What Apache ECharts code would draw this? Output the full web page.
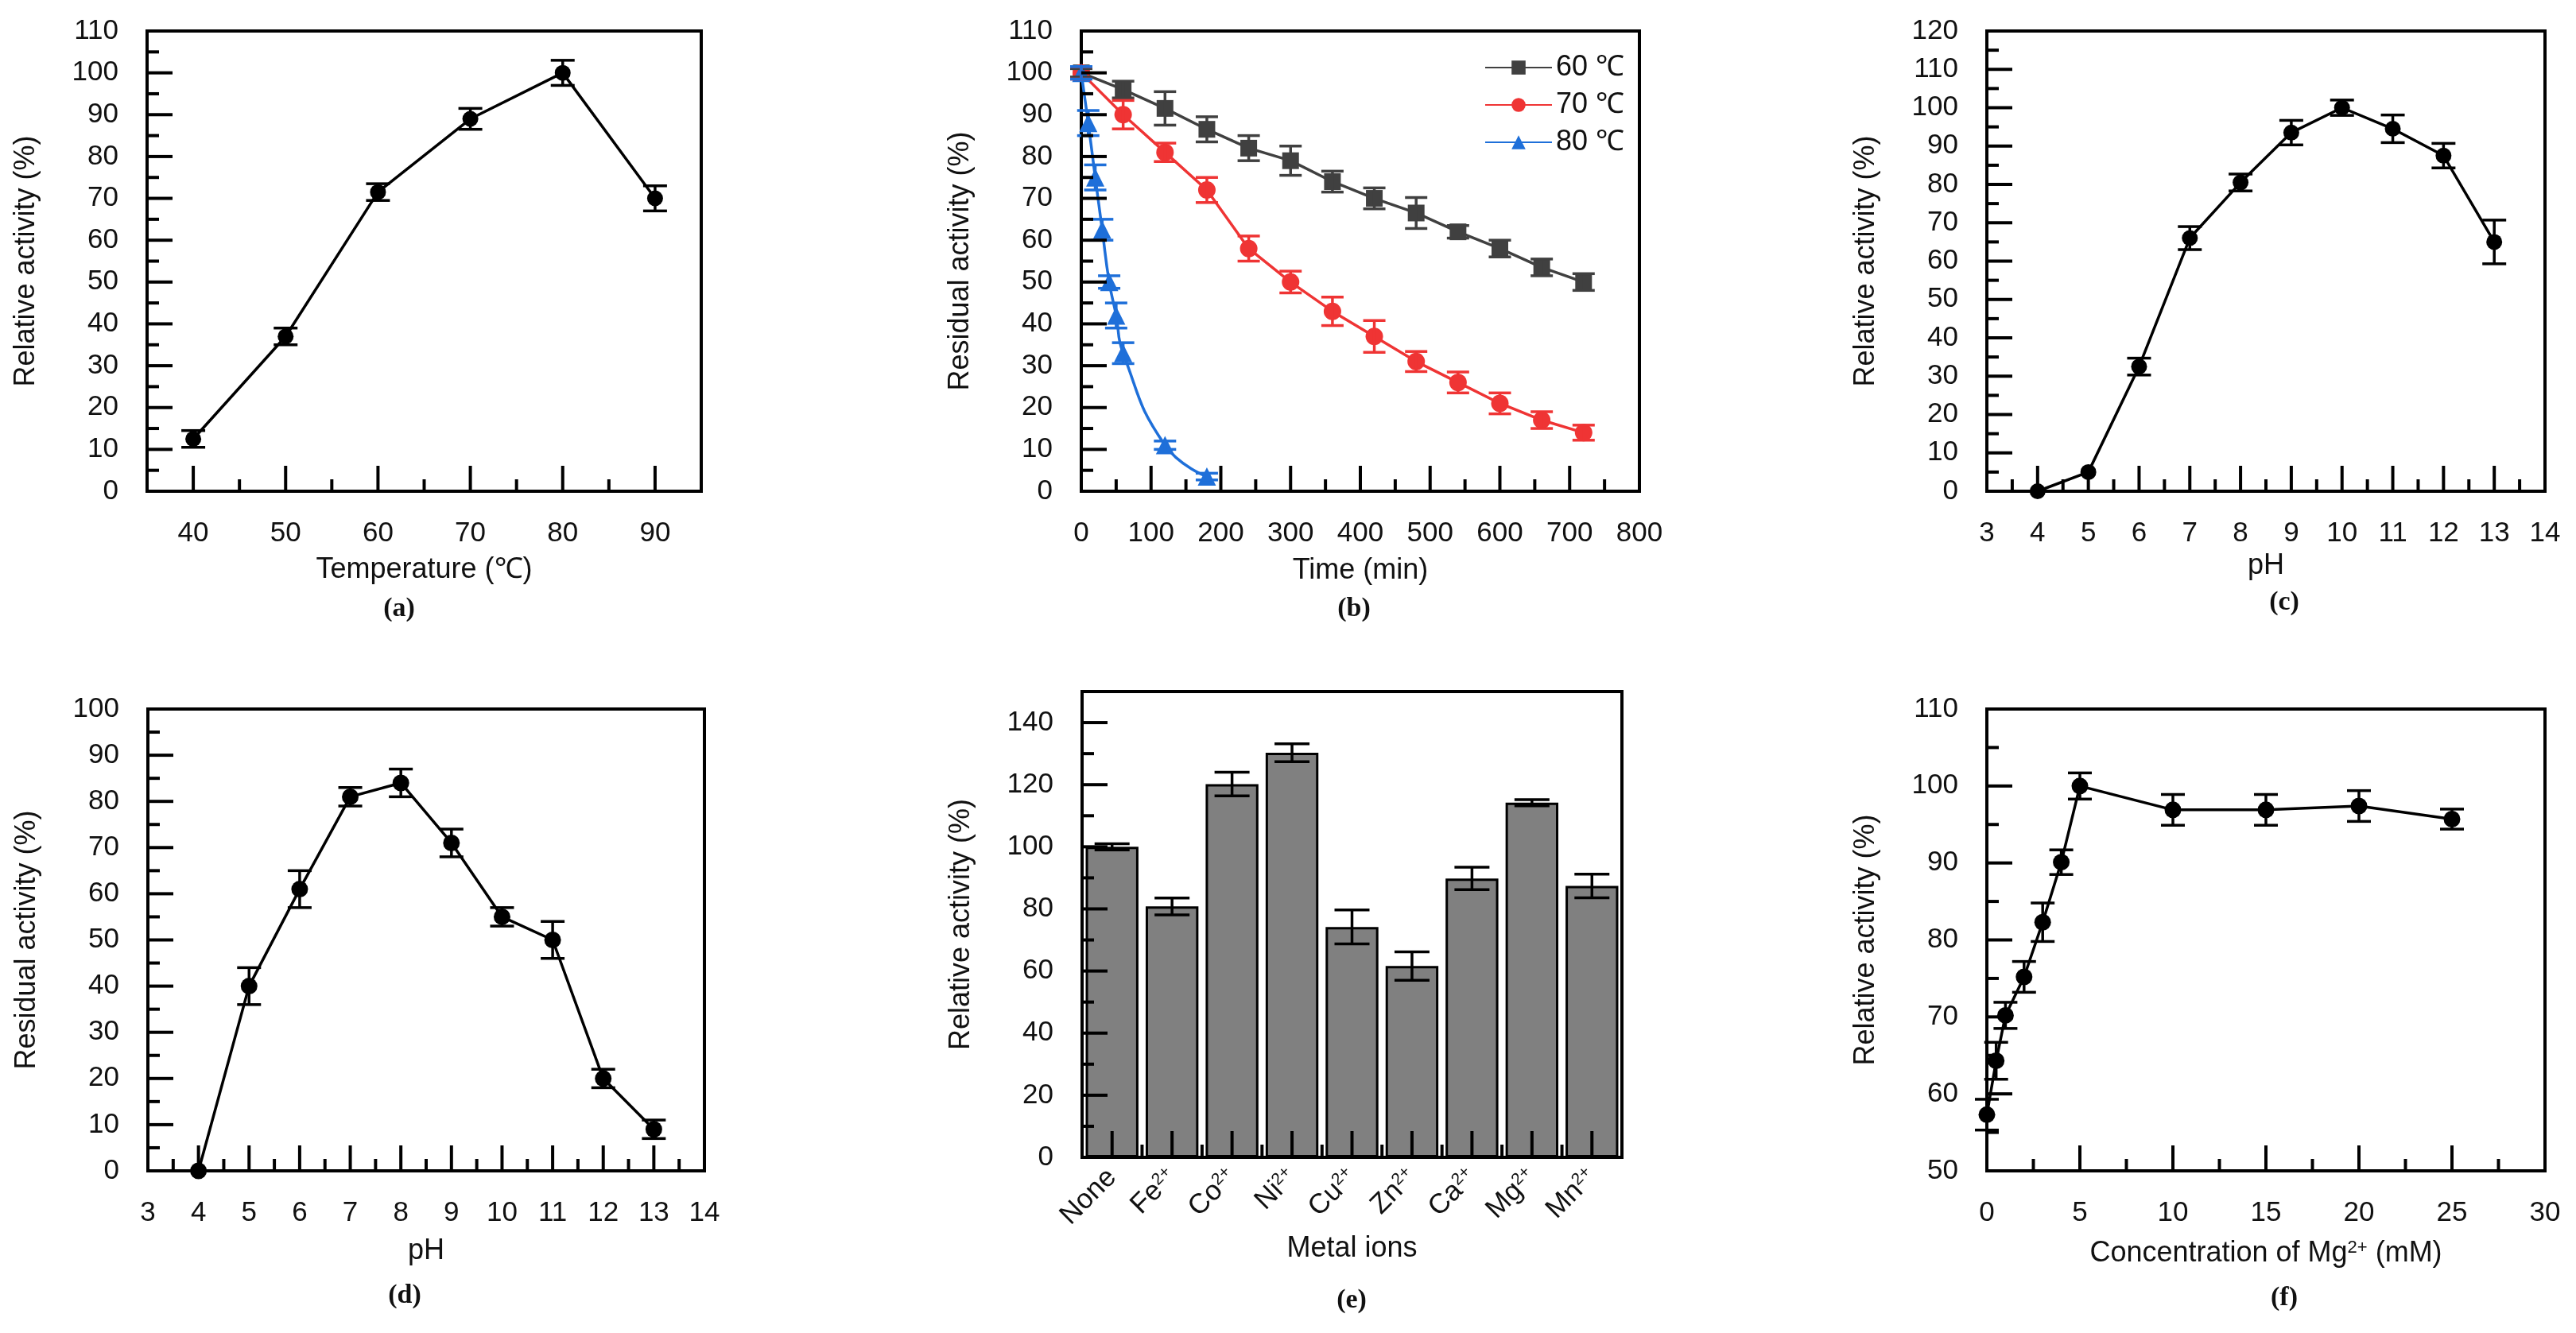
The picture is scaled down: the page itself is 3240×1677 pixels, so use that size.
<!DOCTYPE html>
<html>
<head>
<meta charset="utf-8">
<script src="https://cdn.jsdelivr.net/npm/echarts@6/dist/echarts.min.js"></script>
<style>
  html, body { margin: 0; padding: 0; background: #fff; }
  #chart { width: 3240px; height: 1677px; }
</style>
</head>
<body>
<div id="chart"></div>
<script>
// (a) optimum temperature
const tempValues = [40, 50, 60, 70, 80, 90];
const tempActivity = [12.5, 37, 71.5, 89, 100, 70];
const tempError = [2, 2, 2, 2.5, 3, 3];

// (b) thermostability
const time6070 = [0, 60, 120, 180, 240, 300, 360, 420, 480, 540, 600, 660, 720];
const residual60 = [100, 96, 91.5, 86.5, 82, 79, 74, 70, 66.5, 62, 58, 53.5, 50];
const error60 = [1, 2, 4, 3, 3, 3.5, 2.5, 2.5, 3.7, 1.5, 2, 2, 2];
const residual70 = [100, 90, 81, 72, 58, 50, 43, 37, 31, 26, 21, 17, 14];
const error70 = [1.5, 3.4, 2.2, 3, 3, 2.6, 3.4, 3.8, 2.4, 2.5, 2.5, 2, 1.8];
const time80 = [0, 10, 20, 30, 40, 50, 60, 120, 180];
const residual80 = [100, 88, 75, 62.5, 50, 42, 33, 11, 3.5];
const error80 = [1.5, 3, 3, 2.5, 1.5, 3, 2.5, 1, 0.8];

// (c) optimum pH
const phActivityX = [4, 5, 6, 7, 8, 9, 10, 11, 12, 13];
const phActivity = [0, 5, 32.5, 66, 80.5, 93.5, 100, 94.5, 87.5, 65];
const phActivityErr = [0, 0, 2.2, 3, 2.2, 3.2, 2, 3.6, 3.2, 5.7];

// (d) pH stability
const phStabilityX = [4, 5, 6, 7, 8, 9, 10, 11, 12, 13];
const phStability = [0, 40, 61, 81, 84, 71, 55, 50, 20, 9];
const phStabilityErr = [0, 4, 4, 2, 3, 3, 2, 4, 2, 2];

// (e) metal ions
const metalIons = ['None', 'Fe{sup|2+}', 'Co{sup|2+}', 'Ni{sup|2+}', 'Cu{sup|2+}',
                   'Zn{sup|2+}', 'Ca{sup|2+}', 'Mg{sup|2+}', 'Mn{sup|2+}'];
const metalActivity = [100, 80.8, 120.2, 130.3, 74.2, 61.6, 89.8, 114.2, 87.4];
const metalError = [1, 2.7, 3.8, 2.9, 5.5, 4.6, 3.6, 1, 3.8];

// (f) Mg2+ concentration
const mgConc = [0, 0.5, 1, 2, 3, 4, 5, 10, 15, 20, 25];
const mgActivity = [57.3, 64.3, 70.2, 75.2, 82.3, 90.1, 100, 96.9, 96.9, 97.4, 95.7];
const mgError = [2, 2.4, 1.7, 2, 2.5, 1.6, 1.7, 2, 2, 2, 1.3];

// tick positions
function range(a, b, step) {
  const out = [];
  for (let v = a; v <= b + 1e-9; v += step) out.push(Math.round(v * 100) / 100);
  return out;
}
const tempMajor = range(40, 90, 10), tempMinor = range(45, 85, 10);
const timeMajor = range(0, 800, 100), timeMinor = range(50, 750, 100);
const phMajor = range(3, 14, 1), phMinor = range(3.5, 13.5, 1);
const mgMajor = range(0, 30, 5), mgMinor = range(2.5, 27.5, 5);
const pct110Major = range(0, 110, 10), pct110Minor = range(5, 105, 10);
const pct120Major = range(0, 120, 10), pct120Minor = range(5, 115, 10);
const pct100Major = range(0, 100, 10), pct100Minor = range(5, 95, 10);
const metalMajor = range(0, 140, 20), metalMinor = range(10, 130, 20);
const pctMgMajor = range(50, 110, 10), pctMgMinor = range(55, 105, 10);

const FONT = 'Liberation Sans';
const GRAY = '#404040';
const RED = '#ef3434';
const BLUE = '#1e6fd9';
const MAJOR = 32, MINOR = 15;

const chart = echarts.init(document.getElementById('chart'));

function mainAxis(gridIndex, min, max, labelValues, name, nameGap) {
  return {
    type: 'value', gridIndex, min, max,
    axisLine: { show: true, onZero: false, lineStyle: { color: '#000', width: 4 } },
    axisTick: { show: false },
    minorTick: { show: false },
    axisLabel: { color: '#111', fontSize: 35, fontFamily: FONT, margin: 36, customValues: labelValues },
    splitLine: { show: false },
    name, nameLocation: 'middle', nameGap,
    nameTextStyle: { color: '#111', fontSize: 36, fontFamily: FONT }
  };
}

const grids = [
  { left: 185, top: 39, width: 697, height: 579 },
  { left: 1360, top: 39, width: 702, height: 579 },
  { left: 2499, top: 39, width: 702, height: 579 },
  { left: 186, top: 892, width: 700, height: 581 },
  { left: 1361, top: 870, width: 679, height: 586 },
  { left: 2499, top: 892, width: 702, height: 581 }
].map(g => Object.assign(g, { show: true, borderColor: '#000', borderWidth: 4 }));

const xE = {
  type: 'category', gridIndex: 4, data: metalIons,
  axisLine: { show: true, onZero: false, lineStyle: { color: '#000', width: 4 } },
  axisTick: { show: false },
  axisLabel: {
    color: '#111', fontSize: 35, fontFamily: FONT, rotate: 45, margin: 20, interval: 0,
    rich: { sup: { fontSize: 21, fontFamily: FONT, color: '#111', verticalAlign: 'top', lineHeight: 22 } }
  },
  splitLine: { show: false },
  name: 'Metal ions', nameLocation: 'middle', nameGap: 97,
  nameTextStyle: { color: '#111', fontSize: 36, fontFamily: FONT }
};
const xF = mainAxis(5, 0, 30, mgMajor, 'Concentration of Mg{sup|2+} (mM)', 86);
xF.nameTextStyle.rich = { sup: { fontSize: 22, fontFamily: FONT, color: '#111', verticalAlign: 'top', lineHeight: 20 } };

const xAxes = [
  mainAxis(0, 35, 95, tempMajor, 'Temperature (\u2103)', 81),
  mainAxis(1, 0, 800, timeMajor, 'Time (min)', 82),
  mainAxis(2, 3, 14, phMajor, 'pH', 76),
  mainAxis(3, 3, 14, phMajor, 'pH', 83),
  xE,
  xF
];
const yAxes = [
  mainAxis(0, 0, 110, pct110Major, 'Relative activity (%)', 134),
  mainAxis(1, 0, 110, pct110Major, 'Residual activity (%)', 134),
  mainAxis(2, 0, 120, pct120Major, 'Relative activity (%)', 134),
  mainAxis(3, 0, 100, pct100Major, 'Residual activity (%)', 134),
  mainAxis(4, 0, 150, metalMajor, 'Relative activity (%)', 134),
  mainAxis(5, 50, 110, pctMgMajor, 'Relative activity (%)', 134)
];

function pairs(xs, ys) {
  return xs.map((x, i) => [x, ys[i]]);
}

function lineSeries(name, idx, xs, ys, color, symbol, size, smooth) {
  return {
    name, type: 'line', xAxisIndex: idx, yAxisIndex: idx,
    data: pairs(xs, ys), smooth: !!smooth,
    symbol, symbolSize: size, showAllSymbol: true,
    itemStyle: { color },
    lineStyle: { color, width: 3.5 },
    z: 3
  };
}

function errorBars(idx, xs, ys, errs, color, capHalf) {
  return {
    type: 'custom', xAxisIndex: idx, yAxisIndex: idx, silent: true, z: 4,
    data: xs.map((x, i) => [x, ys[i] - errs[i], ys[i] + errs[i]]),
    renderItem: function (params, api) {
      if (api.value(1) === api.value(2)) return null;
      const lo = api.coord([api.value(0), api.value(1)]);
      const hi = api.coord([api.value(0), api.value(2)]);
      const style = { stroke: color, lineWidth: 3.5 };
      return {
        type: 'group',
        children: [
          { type: 'line', shape: { x1: lo[0], y1: lo[1], x2: hi[0], y2: hi[1] }, style },
          { type: 'line', shape: { x1: lo[0] - capHalf, y1: lo[1], x2: lo[0] + capHalf, y2: lo[1] }, style },
          { type: 'line', shape: { x1: hi[0] - capHalf, y1: hi[1], x2: hi[0] + capHalf, y2: hi[1] }, style }
        ]
      };
    }
  };
}

const metalIndex = metalIons.map((m, i) => i);

const panelTags = ['(a)', '(b)', '(c)', '(d)', '(e)', '(f)'];
const tagPos = [[502, 766], [1703, 766], [2873, 758], [509, 1630], [1700, 1636], [2873, 1633]];

const option = {
  animation: false,
  backgroundColor: '#fff',
  grid: grids,
  xAxis: xAxes,
  yAxis: yAxes,
  legend: {
    data: ['60 \u2103', '70 \u2103', '80 \u2103'],
    orient: 'vertical', left: 1862, top: 62,
    itemWidth: 84, itemHeight: 22, itemGap: 11,
    textStyle: { color: '#111', fontSize: 36, fontFamily: FONT }
  },
  series: [
    // (a)
    lineSeries('temp', 0, tempValues, tempActivity, '#000', 'circle', 20),
    errorBars(0, tempValues, tempActivity, tempError, '#000', 15),
    // (b)
    lineSeries('60 \u2103', 1, time6070, residual60, GRAY, 'rect', 21),
    errorBars(1, time6070, residual60, error60, GRAY, 14),
    lineSeries('70 \u2103', 1, time6070, residual70, RED, 'circle', 22),
    errorBars(1, time6070, residual70, error70, RED, 14),
    lineSeries('80 \u2103', 1, time80, residual80, BLUE, 'triangle', 23, true),
    errorBars(1, time80, residual80, error80, BLUE, 14),
    // (c)
    lineSeries('phA', 2, phActivityX, phActivity, '#000', 'circle', 20),
    errorBars(2, phActivityX, phActivity, phActivityErr, '#000', 15),
    // (d)
    lineSeries('phS', 3, phStabilityX, phStability, '#000', 'circle', 21),
    errorBars(3, phStabilityX, phStability, phStabilityErr, '#000', 15),
    // (e)
    {
      type: 'bar', xAxisIndex: 4, yAxisIndex: 4, data: metalActivity,
      barWidth: '88%',
      itemStyle: { color: '#808080', borderColor: '#000', borderWidth: 3 },
      z: 2
    },
    errorBars(4, metalIndex, metalActivity, metalError, '#000', 22),
    // (f)
    lineSeries('mg', 5, mgConc, mgActivity, '#000', 'circle', 21),
    errorBars(5, mgConc, mgActivity, mgError, '#000', 15)
  ]
};

chart.setOption(option);

// inward tick marks: positions come from the grid's own scales (convertToPixel)
// 'x' ticks sit on yMin, 'y' ticks sit on xMin; bandShift moves by a fraction of a category band
const tickElements = [];
function addTicks(gridIndex, dim, values, anchor, len, bandShift) {
  values.forEach(v => {
    const p = chart.convertToPixel({ gridIndex }, dim === 'x' ? [v, anchor] : [anchor, v]);
    let px = p[0];
    if (bandShift) {
      const b1 = chart.convertToPixel({ gridIndex }, [1, 0]);
      const b0 = chart.convertToPixel({ gridIndex }, [0, 0]);
      px += bandShift * (b1[0] - b0[0]);
    }
    const shape = dim === 'x'
      ? { x1: px, y1: p[1], x2: px, y2: p[1] - len }
      : { x1: px, y1: p[1], x2: px + len, y2: p[1] };
    tickElements.push({
      type: 'line', shape, silent: true, z: 100,
      style: { stroke: '#000', lineWidth: 4 }
    });
  });
}
addTicks(0, 'x', tempMajor, 0, MAJOR); addTicks(0, 'x', tempMinor, 0, MINOR);
addTicks(0, 'y', pct110Major, 35, MAJOR); addTicks(0, 'y', pct110Minor, 35, MINOR);
addTicks(1, 'x', timeMajor, 0, MAJOR); addTicks(1, 'x', timeMinor, 0, MINOR);
addTicks(1, 'y', pct110Major, 0, MAJOR); addTicks(1, 'y', pct110Minor, 0, MINOR);
addTicks(2, 'x', phMajor, 0, MAJOR); addTicks(2, 'x', phMinor, 0, MINOR);
addTicks(2, 'y', pct120Major, 3, MAJOR); addTicks(2, 'y', pct120Minor, 3, MINOR);
addTicks(3, 'x', phMajor, 0, MAJOR); addTicks(3, 'x', phMinor, 0, MINOR);
addTicks(3, 'y', pct100Major, 3, MAJOR); addTicks(3, 'y', pct100Minor, 3, MINOR);
addTicks(4, 'x', metalIndex, 0, 33);
addTicks(4, 'x', metalIndex, 0, 16, -0.5);
addTicks(4, 'x', [metalIndex.length - 1], 0, 16, 0.5);
addTicks(4, 'y', metalMajor, 0, MAJOR, -0.5); addTicks(4, 'y', metalMinor, 0, MINOR, -0.5);
addTicks(5, 'x', mgMajor, 50, MAJOR); addTicks(5, 'x', mgMinor, 50, MINOR);
addTicks(5, 'y', pctMgMajor, 0, MAJOR); addTicks(5, 'y', pctMgMinor, 0, MINOR);

const labelElements = panelTags.map((t, i) => ({
  type: 'text', x: tagPos[i][0], y: tagPos[i][1],
  style: {
    text: t, fill: '#111', fontSize: 34, fontWeight: 'bold',
    fontFamily: 'Liberation Serif', align: 'center', verticalAlign: 'middle'
  }
}));

chart.setOption({ graphic: { elements: labelElements.concat(tickElements) } });
</script>
</body>
</html>
